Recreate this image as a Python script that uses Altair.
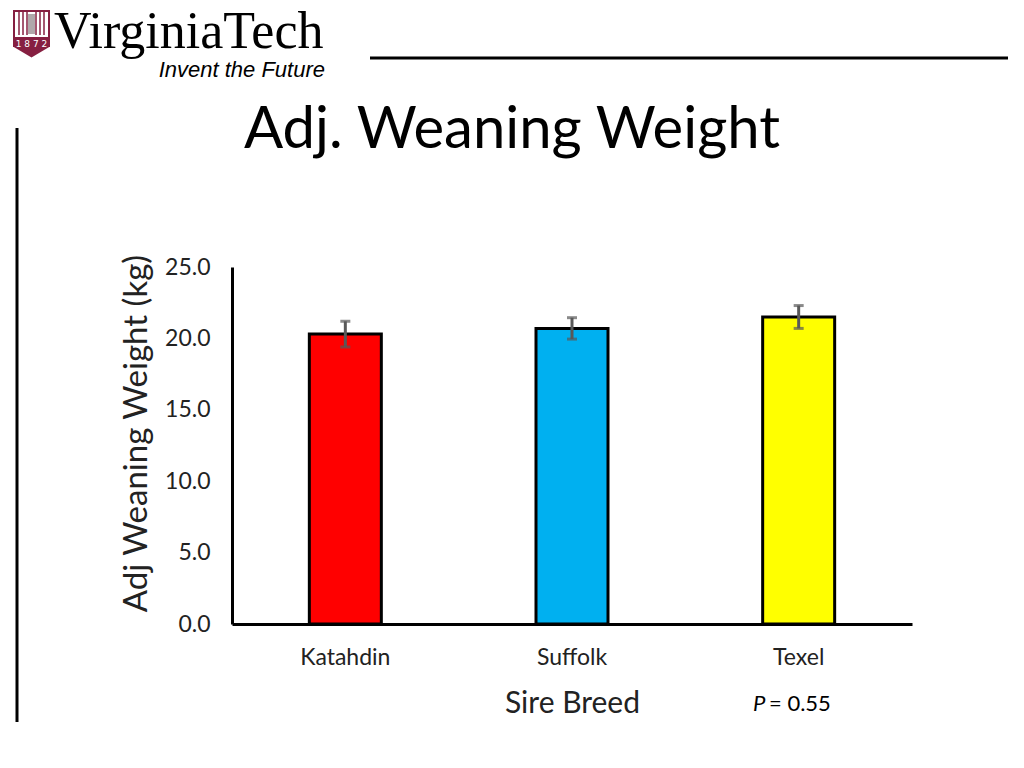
import altair as alt
import pandas as pd

breeds = ["Katahdin", "Suffolk", "Texel"]
means = [20.3, 20.7, 21.5]
errors = [0.9, 0.75, 0.8]
colors = ["#FF0000", "#00B0F0", "#FFFF00"]

df = pd.DataFrame({
    "breed": breeds,
    "mean": means,
    "lo": [m - e for m, e in zip(means, errors)],
    "hi": [m + e for m, e in zip(means, errors)],
    "color": colors,
})

W, H = 680, 357
FONT = "Lato"
YSC = alt.Scale(domain=[0, 25], nice=False, zero=True)

x = alt.X("breed:N", sort=breeds,
          scale=alt.Scale(paddingInner=0.68, paddingOuter=0.34),
          axis=alt.Axis(title="Sire Breed", labelAngle=0, labelFontSize=23, labelPadding=22,
                        labelColor="#222222", titleFontSize=30, titleFontWeight="normal",
                        titlePadding=19, titleColor="#222222", ticks=False,
                        domainColor="black", domainWidth=3, labelFont=FONT, titleFont=FONT))
y = alt.Y("mean:Q", scale=YSC,
          axis=alt.Axis(title="Adj Weaning Weight (kg)", values=[0, 5, 10, 15, 20, 25], format=".1f",
                        labelFontSize=23, labelColor="#222222", labelPadding=22, ticks=False,
                        titleFontSize=33, titleFontWeight="normal", titleColor="#222222",
                        titlePadding=11, titleY=166, domainColor="black", domainWidth=3, grid=False,
                        labelFont=FONT, titleFont=FONT))

base = alt.Chart(df)
bars = base.mark_bar(size=72, stroke="black", strokeWidth=3).encode(
    x=x, y=y, fill=alt.Fill("color:N", scale=None))
err = base.mark_rule(color="#595959", strokeWidth=3).encode(
    x=alt.X("breed:N", sort=breeds), y=alt.Y("lo:Q", scale=YSC), y2="hi:Q")
cap_lo = base.mark_tick(color="#595959", thickness=3, size=10, orient="horizontal").encode(
    x=alt.X("breed:N", sort=breeds), y=alt.Y("lo:Q", scale=YSC))
cap_hi = base.mark_tick(color="#595959", thickness=3, size=10, orient="horizontal").encode(
    x=alt.X("breed:N", sort=breeds), y=alt.Y("hi:Q", scale=YSC))

# Origin of plot area on the page: (232, 267)
OX, OY = 232, 267

def txt(s, px, py, **kw):
    return alt.Chart(pd.DataFrame({"t": [s]})).mark_text(**kw).encode(
        text="t:N", x=alt.value(px - OX), y=alt.value(py - OY))

def rule(x1, y1, x2, y2, **kw):
    return alt.Chart(pd.DataFrame({"a": [0]})).mark_rule(**kw).encode(
        x=alt.value(x1 - OX), x2=alt.value(x2 - OX), y=alt.value(y1 - OY), y2=alt.value(y2 - OY))

def box(x1, y1, x2, y2, **kw):
    return alt.Chart(pd.DataFrame({"a": [0]})).mark_rect(**kw).encode(
        x=alt.value(x1 - OX), x2=alt.value(x2 - OX), y=alt.value(y1 - OY), y2=alt.value(y2 - OY))

title = txt("Adj. Weaning Weight", 512, 131, font=FONT, fontSize=58, color="black",
            align="center", baseline="middle")
pval = txt("P", 753, 704, font=FONT, fontSize=22, fontStyle="italic", align="left",
           baseline="middle", color="black")
pval2 = txt("= 0.55", 769, 704, font=FONT, fontSize=22, align="left", baseline="middle", color="black")

hline = rule(370, 58, 1008, 58, color="black", strokeWidth=3)
vline = rule(17, 128, 17, 722, color="black", strokeWidth=3)

MAROON = "#861F41"
shield = box(13, 10, 50, 47, color=MAROON)
shield_tip = alt.Chart(pd.DataFrame({"a": [0]})).mark_point(
    shape="M-1,0L1,0L0,0.6Z", filled=True, color=MAROON, size=1369, opacity=1, strokeWidth=0
).encode(x=alt.value(31.5 - OX), y=alt.value(46.5 - OY))
topw = box(15, 12, 48, 37, color="white")
cols = [rule(xx, 12, xx, 35, color=MAROON, strokeWidth=1.5) for xx in [19, 23, 27, 36, 40, 44]]
book = box(28, 14, 35, 34, color="#B0A8AA")
yr = txt("1 8 7 2", 31.5, 44, font="DejaVu Sans", fontSize=9, color="white", align="center",
         baseline="middle")
vt = txt("VirginiaTech", 54, 48, font="Liberation Serif", fontSize=52, color="black",
         align="left", baseline="alphabetic")
inv = txt("Invent the Future", 325, 77, font="Liberation Sans", fontSize=22, fontStyle="italic",
          color="black", align="right", baseline="alphabetic")

chart = alt.layer(
    bars, err, cap_lo, cap_hi, title, pval, pval2, hline, vline,
    shield, shield_tip, topw, *cols, book, yr, vt, inv
).properties(
    width=W, height=H,
    background="white",
    autosize=alt.AutoSizeParams(type="none"),
    padding={"left": OX - 8, "top": OY - 8, "right": 1008 - (OX - 8) - W - 8, "bottom": 100},
).configure_view(stroke=None)

chart.save("out.html", embed_options={"renderer": "svg", "actions": False})
